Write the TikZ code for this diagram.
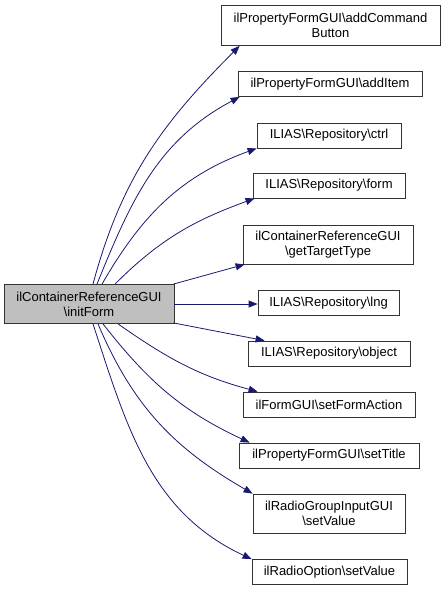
\documentclass[tikz,border=0pt]{standalone}
\usepackage{fontspec}
\setmainfont{Liberation Sans}
\usetikzlibrary{arrows.meta}
\definecolor{edgeblue}{HTML}{191970}

\begin{document}
\begin{tikzpicture}[
    x=1pt, y=-1pt,
    % Plain boxes for the called functions
    fn/.style={rectangle, draw=black!80, line width=0.8pt, fill=white, inner sep=1pt, align=center, font=\fontsize{13}{15}\selectfont, minimum height=25pt},
    fntwo/.style={fn, minimum height=39pt},
    current/.style={fntwo, fill=black!25},
    call/.style={-{Triangle[length=9pt, width=7pt]}, draw=edgeblue, line width=0.8pt}
]
\useasboundingbox (0,0) rectangle (443,591);

% Caller
\node[current, minimum width=170pt] (initform) at (89, 304) {ilContainerReferenceGUI\\\textbackslash initForm};

% Callees - one column
\node[fntwo, minimum width=219pt, minimum height=40pt] (addcmd) at (330.5, 25.5) {ilPropertyFormGUI\textbackslash addCommand\\Button};
\node[fn, minimum width=184pt] (additem) at (330, 84) {ilPropertyFormGUI\textbackslash addItem};
\node[fn, minimum width=144pt] (ctrl) at (329, 135.5) {ILIAS\textbackslash Repository\textbackslash ctrl};
\node[fn, minimum width=152pt] (form) at (329, 185.5) {ILIAS\textbackslash Repository\textbackslash form};
\node[fntwo, minimum width=170pt] (gettype) at (328, 244.5) {ilContainerReferenceGUI\\\textbackslash getTargetType};
\node[fn, minimum width=141pt] (lng) at (328.5, 303) {ILIAS\textbackslash Repository\textbackslash lng};
\node[fn, minimum width=162pt] (object) at (329, 353.5) {ILIAS\textbackslash Repository\textbackslash object};
\node[fn, minimum width=172pt] (setaction) at (329, 404.5) {ilFormGUI\textbackslash setFormAction};
\node[fn, minimum width=180pt] (settitle) at (329, 455.5) {ilPropertyFormGUI\textbackslash setTitle};
\node[fntwo, minimum width=152pt] (radiogroup) at (329, 513.5) {ilRadioGroupInputGUI\\\textbackslash setValue};
\node[fn, minimum width=155pt] (radioopt) at (329.5, 572) {ilRadioOption\textbackslash setValue};

% Calls - upper fan
\draw[call] ([xshift=4pt]initform.north) to[out=75, in=225] ([xshift=19pt]addcmd.south west);
\draw[call] ([xshift=8pt]initform.north) to[out=68, in=208] ([xshift=2pt]additem.south west);
\draw[call] ([xshift=13pt]initform.north) to[out=60, in=200] (ctrl.south west);
\draw[call] ([xshift=26pt]initform.north) to[out=45, in=200] ([xshift=2pt]form.south west);
\draw[call] ([xshift=-1pt]initform.north east) -- ([xshift=2pt]gettype.south west);

% Straight call
\draw[call] (initform.east) -- (initform.east -| lng.west);

% Calls - lower fan
\draw[call] ([xshift=-1pt, yshift=1pt]initform.south east) -- ([xshift=17pt]object.north west);
\draw[call] ([xshift=29pt]initform.south) to[out=-35, in=165] ([xshift=15pt]setaction.north west);
\draw[call] ([xshift=14pt]initform.south) to[out=-52, in=155] ([xshift=11pt]settitle.north west);
\draw[call] ([xshift=9pt]initform.south) to[out=-67, in=150] (radiogroup.north west);
\draw[call] ([xshift=4pt]initform.south) to[out=-72, in=155] (radioopt.north west);

\end{tikzpicture}
\end{document}
